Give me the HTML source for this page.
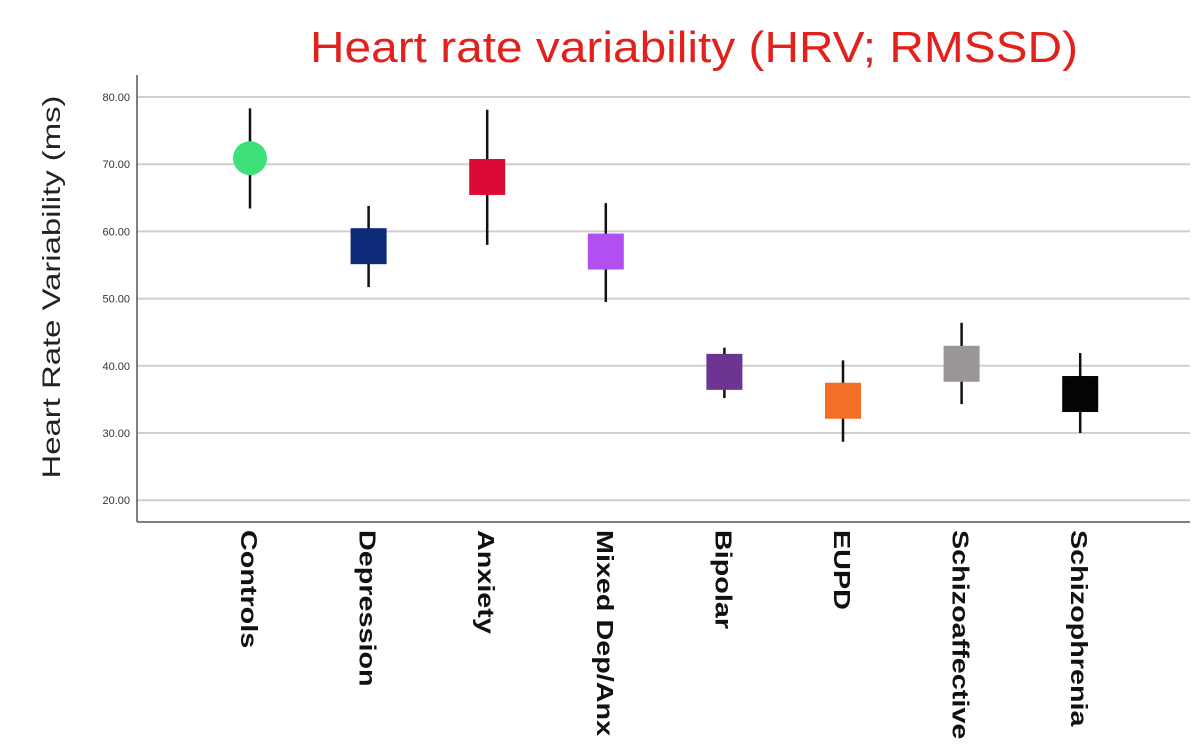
<!DOCTYPE html>
<html><head><meta charset="utf-8"><style>
body{margin:0;background:#fff;}
svg{display:block;font-family:"Liberation Sans",sans-serif;}
</style></head><body>
<svg id="chart" width="1200" height="748">
<text x="694" y="62" text-anchor="middle" font-size="44" fill="#e3211c" textLength="768" lengthAdjust="spacingAndGlyphs">Heart rate variability (HRV; RMSSD)</text>
<text transform="translate(60,287) rotate(-90)" text-anchor="middle" font-size="25" fill="#222" textLength="383" lengthAdjust="spacingAndGlyphs">Heart Rate Variability (ms)</text>
<g id="grid"></g><g id="marks"></g><g id="labels"></g>
<line x1="137" y1="75" x2="137" y2="522" stroke="#555" stroke-width="1.5"/>
<line x1="137" y1="522" x2="1190" y2="522" stroke="#555" stroke-width="1.5"/>
</svg>
<script>
const categories=["Controls","Depression","Anxiety","Mixed Dep/Anx","Bipolar","EUPD","Schizoaffective","Schizophrenia"];
const means=[70.9,57.8,68.1,57.0,39.1,34.8,40.3,35.8];
const upper=[78.3,63.8,78.1,64.2,42.7,40.8,46.4,41.9];
const lower=[63.4,51.7,58.0,49.5,35.2,28.7,34.3,30.0];
const colors=["#3ee07a","#0c2a78","#dc0a37","#b14ff0","#6d3591","#f26f25","#9a9597","#050505"];
const ticks=[20,30,40,50,60,70,80];
const tickLabels=["20.00","30.00","40.00","50.00","60.00","70.00","80.00"];
const NS="http://www.w3.org/2000/svg";
const y=v=>97+(80-v)*6.72;
const x=i=>250+i*118.6;
function mk(t,a,p){const e=document.createElementNS(NS,t);for(const k in a)e.setAttribute(k,a[k]);p.appendChild(e);return e;}
const g=document.getElementById('grid'),m=document.getElementById('marks'),l=document.getElementById('labels');
ticks.forEach((t,i)=>{
 const ln=mk('line',{x1:137,x2:1190,y1:y(t),y2:y(t),stroke:'#cfcfcf','stroke-width':2},g);
 
 
 const tx=mk('text',{x:130,y:y(t)+4,'text-anchor':'end','font-size':11,fill:'#333'},g);
 tx.textContent=tickLabels[i];
 
 
});
categories.forEach((c,i)=>{
 const eb=mk('line',{x1:x(i),x2:x(i),y1:y(upper[i]),y2:y(lower[i]),stroke:'#111','stroke-width':2.5},m);
 
 
 let mark;
 if(i===0) mark=mk('circle',{cx:x(i),cy:y(means[i]),r:17,fill:colors[i]},m);
 else mark=mk('rect',{x:x(i)-18,y:y(means[i])-18,width:36,height:36,fill:colors[i]},m);
 
 
 const t=mk('text',{transform:`translate(${x(i)-9},530) rotate(90)`,'font-size':23,'font-weight':'bold',fill:'#111'},l);
 t.textContent=c;
 
 
 const w=t.getComputedTextLength();
 t.setAttribute('textLength',w*1.25);
 t.setAttribute('lengthAdjust','spacingAndGlyphs');
});
</script>
</body></html>
